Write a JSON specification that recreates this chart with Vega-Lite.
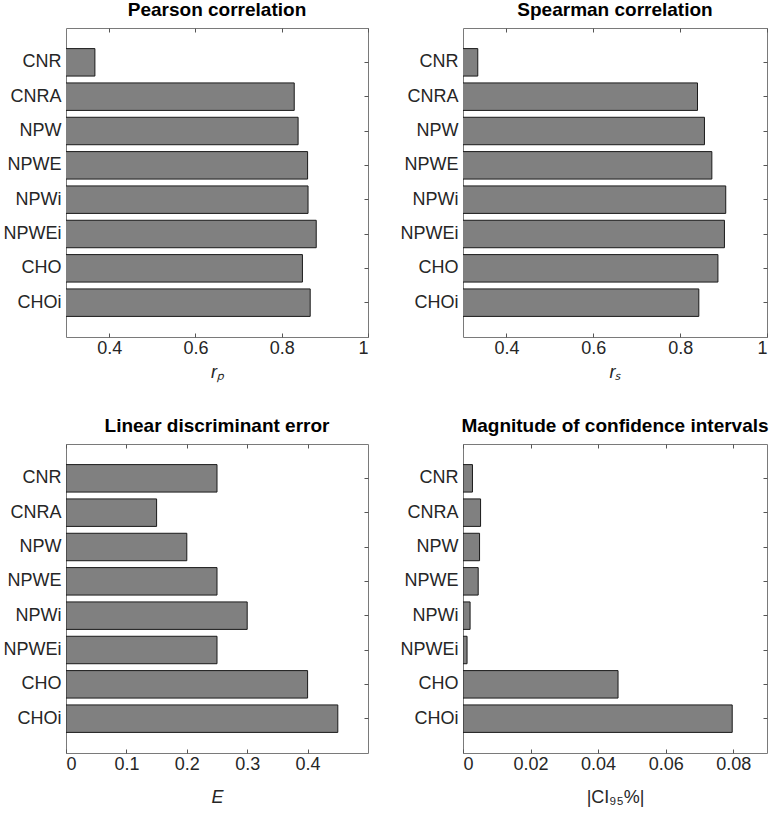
{
  "$schema": "https://vega.github.io/schema/vega-lite/v6.json",
  "background": "white",
  "padding": {"left": 2, "top": 0, "right": 0, "bottom": 0},
  "datasets": {
    "m": [
      {"name": "CNR", "pearson": 0.367, "spearman": 0.334, "lde": 0.25, "ci": 0.0028},
      {"name": "CNRA", "pearson": 0.829, "spearman": 0.840, "lde": 0.15, "ci": 0.0052},
      {"name": "NPW", "pearson": 0.838, "spearman": 0.856, "lde": 0.20, "ci": 0.0049},
      {"name": "NPWE", "pearson": 0.860, "spearman": 0.873, "lde": 0.25, "ci": 0.0045},
      {"name": "NPWi", "pearson": 0.861, "spearman": 0.905, "lde": 0.30, "ci": 0.0021},
      {"name": "NPWEi", "pearson": 0.880, "spearman": 0.902, "lde": 0.25, "ci": 0.0012},
      {"name": "CHO", "pearson": 0.848, "spearman": 0.887, "lde": 0.40, "ci": 0.0459},
      {"name": "CHOi", "pearson": 0.866, "spearman": 0.843, "lde": 0.45, "ci": 0.0797}
    ]
  },
  "data": {"name": "m"},
  "columns": 2,
  "bounds": "flush",
  "spacing": {"row": 107, "column": 95},
  "concat": [
    {
      "width": 302, "height": 309,
      "title": {"text": "Pearson correlation"},
      "layer": [
        {
          "mark": {"type": "bar", "fill": "#808080", "stroke": "#1a1a1a", "strokeWidth": 1, "clip": true},
          "encoding": {
            "y": {"field": "name", "type": "nominal", "sort": ["CNR","CNRA","NPW","NPWE","NPWi","NPWEi","CHO","CHOi"], "scale": {"paddingInner": 0.2, "paddingOuter": 0.6}, "axis": {"title": null, "orient": "left", "tickSize": 0}},
            "x": {"field": "pearson", "type": "quantitative", "scale": {"domain": [0.3, 1], "nice": false, "zero": false}, "axis": {"title": "rₚ", "titleFontStyle": "italic", "titlePadding": 6, "values": [0.4, 0.6, 0.8, 1], "format": "~g"}}
          }
        },
        {
          "mark": {"type": "bar", "opacity": 0, "clip": true},
          "encoding": {
            "y": {"field": "name", "type": "nominal", "sort": ["CNR","CNRA","NPW","NPWE","NPWi","NPWEi","CHO","CHOi"], "axis": {"title": null, "orient": "right", "labels": false}},
            "x": {"field": "pearson", "type": "quantitative", "axis": {"title": null, "orient": "top", "labels": false, "values": [0.4, 0.6, 0.8, 1]}}
          }
        }
      ],
      "resolve": {"axis": {"x": "independent", "y": "independent"}}
    },
    {
      "width": 304, "height": 309,
      "title": {"text": "Spearman correlation"},
      "layer": [
        {
          "mark": {"type": "bar", "fill": "#808080", "stroke": "#1a1a1a", "strokeWidth": 1, "clip": true},
          "encoding": {
            "y": {"field": "name", "type": "nominal", "sort": ["CNR","CNRA","NPW","NPWE","NPWi","NPWEi","CHO","CHOi"], "scale": {"paddingInner": 0.2, "paddingOuter": 0.6}, "axis": {"title": null, "orient": "left", "tickSize": 0}},
            "x": {"field": "spearman", "type": "quantitative", "scale": {"domain": [0.3, 1], "nice": false, "zero": false}, "axis": {"title": "rₛ", "titleFontStyle": "italic", "titlePadding": 6, "values": [0.4, 0.6, 0.8, 1], "format": "~g"}}
          }
        },
        {
          "mark": {"type": "bar", "opacity": 0, "clip": true},
          "encoding": {
            "y": {"field": "name", "type": "nominal", "sort": ["CNR","CNRA","NPW","NPWE","NPWi","NPWEi","CHO","CHOi"], "axis": {"title": null, "orient": "right", "labels": false}},
            "x": {"field": "spearman", "type": "quantitative", "axis": {"title": null, "orient": "top", "labels": false, "values": [0.4, 0.6, 0.8, 1]}}
          }
        }
      ],
      "resolve": {"axis": {"x": "independent", "y": "independent"}}
    },
    {
      "width": 302, "height": 309,
      "title": {"text": "Linear discriminant error"},
      "layer": [
        {
          "mark": {"type": "bar", "fill": "#808080", "stroke": "#1a1a1a", "strokeWidth": 1, "clip": true},
          "encoding": {
            "y": {"field": "name", "type": "nominal", "sort": ["CNR","CNRA","NPW","NPWE","NPWi","NPWEi","CHO","CHOi"], "scale": {"paddingInner": 0.2, "paddingOuter": 0.6}, "axis": {"title": null, "orient": "left", "tickSize": 0}},
            "x": {"field": "lde", "type": "quantitative", "scale": {"domain": [0, 0.5], "nice": false}, "axis": {"title": "E", "titleFontStyle": "italic", "titlePadding": 15, "values": [0, 0.1, 0.2, 0.3, 0.4], "format": "~g"}}
          }
        },
        {
          "mark": {"type": "bar", "opacity": 0, "clip": true},
          "encoding": {
            "y": {"field": "name", "type": "nominal", "sort": ["CNR","CNRA","NPW","NPWE","NPWi","NPWEi","CHO","CHOi"], "axis": {"title": null, "orient": "right", "labels": false}},
            "x": {"field": "lde", "type": "quantitative", "axis": {"title": null, "orient": "top", "labels": false, "values": [0, 0.1, 0.2, 0.3, 0.4]}}
          }
        }
      ],
      "resolve": {"axis": {"x": "independent", "y": "independent"}}
    },
    {
      "width": 304, "height": 309,
      "title": {"text": "Magnitude of confidence intervals"},
      "layer": [
        {
          "mark": {"type": "bar", "fill": "#808080", "stroke": "#1a1a1a", "strokeWidth": 1, "clip": true},
          "encoding": {
            "y": {"field": "name", "type": "nominal", "sort": ["CNR","CNRA","NPW","NPWE","NPWi","NPWEi","CHO","CHOi"], "scale": {"paddingInner": 0.2, "paddingOuter": 0.6}, "axis": {"title": null, "orient": "left", "tickSize": 0}},
            "x": {"field": "ci", "type": "quantitative", "scale": {"domain": [0, 0.09], "nice": false}, "axis": {"title": "|CI₉₅%|", "titlePadding": 15, "values": [0, 0.02, 0.04, 0.06, 0.08], "format": "~g"}}
          }
        },
        {
          "mark": {"type": "bar", "opacity": 0, "clip": true},
          "encoding": {
            "y": {"field": "name", "type": "nominal", "sort": ["CNR","CNRA","NPW","NPWE","NPWi","NPWEi","CHO","CHOi"], "axis": {"title": null, "orient": "right", "labels": false}},
            "x": {"field": "ci", "type": "quantitative", "axis": {"title": null, "orient": "top", "labels": false, "values": [0, 0.02, 0.04, 0.06, 0.08]}}
          }
        }
      ],
      "resolve": {"axis": {"x": "independent", "y": "independent"}}
    }
  ],
  "config": {
    "font": "Liberation Sans",
    "view": {"stroke": "#7a7a7a", "strokeWidth": 1},
    "axis": {
      "domain": false,
      "grid": false,
      "tickSize": -4,
      "tickColor": "#555555",
      "labelFontSize": 18,
      "labelColor": "#262626",
      "labelPadding": 6,
      "titleFontSize": 18,
      "titleFontWeight": "normal",
      "titleColor": "#262626",
      "titlePadding": 4
    },
    "axisY": {"labelPadding": 5},
    "title": {"fontSize": 19, "fontWeight": "bold", "color": "#000000", "offset": 8, "anchor": "middle"}
  }
}
